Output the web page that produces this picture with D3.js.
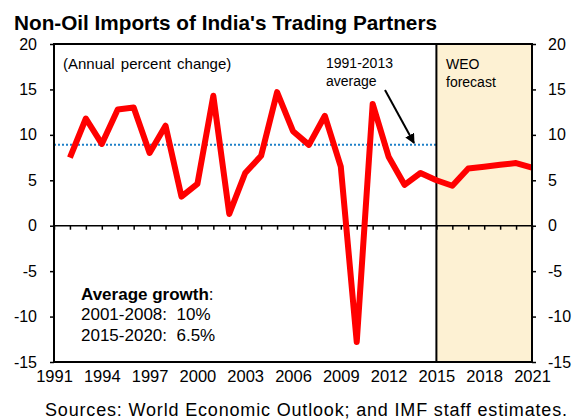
<!DOCTYPE html>
<html>
<head>
<meta charset="utf-8">
<script src="https://cdn.jsdelivr.net/npm/d3@7"></script>
<style>
  body { margin: 0; background: #fff; }
  svg text { font-family: "Liberation Sans", Arial, sans-serif; fill: #000; }
</style>
</head>
<body>
<div id="chart"></div>
<script>
// Data (annual percent change)
const years = [1992, 1993, 1994, 1995, 1996, 1997, 1998, 1999, 2000, 2001,
  2002, 2003, 2004, 2005, 2006, 2007, 2008, 2009, 2010, 2011,
  2012, 2013, 2014, 2015, 2016, 2017, 2018, 2019, 2020, 2021];
const growth = [7.5, 11.8, 9.0, 12.8, 13.0, 8.0, 11.0, 3.2, 4.6, 14.3,
  1.3, 5.8, 7.7, 14.7, 10.4, 8.9, 12.1, 6.5, -12.8, 13.4,
  7.6, 4.5, 5.8, 5.0, 4.4, 6.3, 6.5, 6.7, 6.9, 6.4];
const averageValue = 8.9;          // 1991-2013 average
const averageRange = [1991, 2015];
const forecastRange = [2015, 2021];
const yTicks = [20, 15, 10, 5, 0, -5, -10, -15];
const xTicks = [1991, 1994, 1997, 2000, 2003, 2006, 2009, 2012, 2015, 2018, 2021];

const width = 584, height = 419;
const margin = { top: 44, right: 52, bottom: 57, left: 54 };
const innerW = width - margin.left - margin.right;
const innerH = height - margin.top - margin.bottom;

const svg = d3.select('#chart').append('svg')
  .attr('width', width)
  .attr('height', height);

const x = d3.scaleLinear().domain([1991, 2021]).range([0, innerW]);
const y = d3.scaleLinear().domain([-15, 20]).range([innerH, 0]);

const g = svg.append('g').attr('transform', `translate(${margin.left},${margin.top})`);

// Title
svg.append('text')
  .attr('x', 14).attr('y', 30)
  .attr('textLength', 423).attr('lengthAdjust', 'spacingAndGlyphs')
  .style('font-size', '21px').style('font-weight', 'bold')
  .text("Non-Oil Imports of India's Trading Partners");

// Forecast shading
g.append('rect')
  .attr('x', x(forecastRange[0]))
  .attr('y', 0)
  .attr('width', x(forecastRange[1]) - x(forecastRange[0]))
  .attr('height', innerH)
  .attr('fill', '#fdf1d3');

// Average dotted line
g.append('line')
  .attr('x1', x(averageRange[0])).attr('x2', x(averageRange[1]))
  .attr('y1', y(averageValue)).attr('y2', y(averageValue))
  .attr('stroke', '#1f80c8')
  .attr('stroke-width', 2)
  .attr('stroke-dasharray', '2,2');

// Year ticks on zero line
const zeroAxis = g.append('g')
  .attr('transform', `translate(0,${y(0)})`)
  .call(d3.axisBottom(x).tickValues(d3.range(1991, 2022)).tickSize(4).tickFormat(''));
zeroAxis.select('.domain').remove();
zeroAxis.selectAll('line').attr('stroke', '#000').attr('stroke-width', 1.5);
g.append('line')
  .attr('x1', 0).attr('x2', innerW)
  .attr('y1', y(0)).attr('y2', y(0))
  .attr('stroke', '#000').attr('stroke-width', 1.5);

// Forecast boundary line
g.append('line')
  .attr('x1', x(forecastRange[0])).attr('x2', x(forecastRange[0]))
  .attr('y1', 0).attr('y2', innerH)
  .attr('stroke', '#000').attr('stroke-width', 2);

// Series line
const line = d3.line()
  .x((d, i) => x(years[i]))
  .y(d => y(d));

g.append('path')
  .datum(growth)
  .attr('fill', 'none')
  .attr('stroke', '#ff0000')
  .attr('stroke-width', 6)
  .attr('stroke-linejoin', 'round')
  .attr('d', line);

// Frame
g.append('rect')
  .attr('width', innerW).attr('height', innerH)
  .attr('fill', 'none')
  .attr('stroke', '#000').attr('stroke-width', 2);

// plain hyphen for negatives, like the original
const fmt = d => String(d);

// Left axis
const yLeft = g.append('g')
  .call(d3.axisLeft(y).tickValues(yTicks).tickSize(4).tickPadding(13).tickFormat(fmt));
yLeft.select('.domain').remove();
yLeft.selectAll('line').attr('stroke', '#000').attr('stroke-width', 1.5);
yLeft.selectAll('text').style('font-size', '16px');

// Right axis
const yRight = g.append('g')
  .attr('transform', `translate(${innerW},0)`)
  .call(d3.axisRight(y).tickValues(yTicks).tickSize(4).tickPadding(12).tickFormat(fmt));
yRight.select('.domain').remove();
yRight.selectAll('line').attr('stroke', '#000').attr('stroke-width', 1.5);
yRight.selectAll('text').style('font-size', '16px');

// Bottom year labels
const xAxis = g.append('g')
  .attr('transform', `translate(0,${innerH})`)
  .call(d3.axisBottom(x).tickValues(xTicks).tickSize(0).tickPadding(8).tickFormat(fmt));
xAxis.select('.domain').remove();
xAxis.selectAll('text').style('font-size', '16.5px');

// Annotations
svg.append('text')
  .attr('x', 63).attr('y', 69)
  .style('font-size', '15px').style('word-spacing', '2px')
  .text('(Annual percent change)');

svg.append('text')
  .attr('x', 326).attr('y', 68)
  .style('font-size', '14px')
  .text('1991-2013');
svg.append('text')
  .attr('x', 326).attr('y', 86)
  .style('font-size', '14px')
  .text('average');

svg.append('text')
  .attr('x', 446).attr('y', 69)
  .style('font-size', '14px')
  .text('WEO');
svg.append('text')
  .attr('x', 446).attr('y', 87)
  .style('font-size', '14px')
  .text('forecast');

// Arrow
svg.append('defs').append('marker')
  .attr('id', 'arrowhead')
  .attr('viewBox', '0 0 10 10')
  .attr('refX', 9).attr('refY', 5)
  .attr('markerWidth', 5).attr('markerHeight', 5)
  .attr('orient', 'auto')
  .append('path')
  .attr('d', 'M0,0 L10,5 L0,10 z')
  .attr('fill', '#000');

svg.append('line')
  .attr('x1', 385).attr('y1', 90)
  .attr('x2', 414).attr('y2', 143)
  .attr('stroke', '#000').attr('stroke-width', 2)
  .attr('marker-end', 'url(#arrowhead)');

// Average growth box
const avgText = svg.append('text')
  .attr('x', 81).attr('y', 300)
  .style('font-size', '17px');
avgText.append('tspan').style('font-weight', 'bold').text('Average growth');
avgText.append('tspan').text(':');

svg.append('text')
  .attr('x', 81).attr('y', 320)
  .style('font-size', '17px').style('white-space', 'pre')
  .text('2001-2008:  10%');
svg.append('text')
  .attr('x', 81).attr('y', 341)
  .style('font-size', '17px').style('white-space', 'pre')
  .text('2015-2020:  6.5%');

// Source note
svg.append('text')
  .attr('x', 45).attr('y', 416)
  .attr('textLength', 522).attr('lengthAdjust', 'spacing')
  .style('font-size', '18px')
  .text('Sources: World Economic Outlook; and IMF staff estimates.');
</script>
</body>
</html>
